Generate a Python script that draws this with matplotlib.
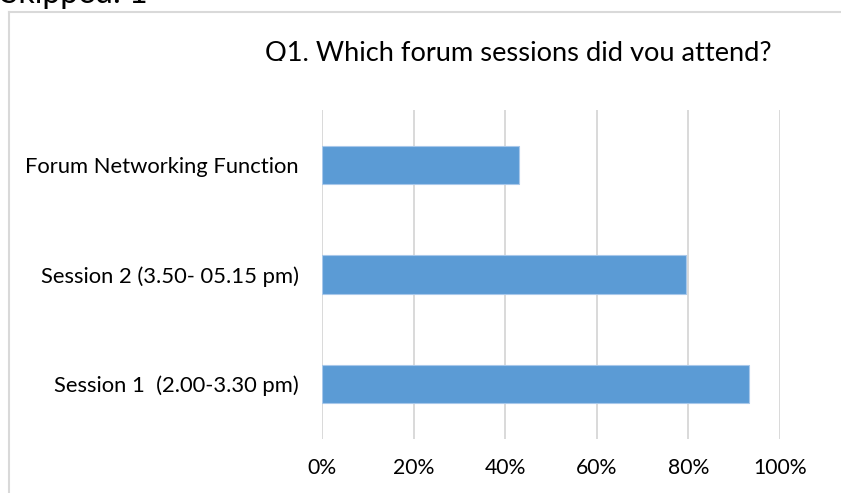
import matplotlib.pyplot as plt
from matplotlib.lines import Line2D
from matplotlib.patches import Rectangle
from matplotlib.ticker import PercentFormatter

# Datos del gráfico (de abajo hacia arriba)
categories = ["Session 1  (2.00-3.30 pm)", "Session 2 (3.50- 05.15 pm)", "Forum Networking Function"]
values = [0.932, 0.795, 0.431]
x_ticks = [0, 0.2, 0.4, 0.6, 0.8, 1.0]

W, H = 841, 493
plt.rcParams['font.family'] = ['Lato', 'DejaVu Sans']

fig = plt.figure(figsize=(W / 100, H / 100), dpi=100)
ax = fig.add_axes([322 / W, 1 - 439 / H, (780 - 322) / W, (439 - 110) / H])

bars = ax.barh(range(len(categories)), values, height=0.35, color='#5b9bd5',
               edgecolor='#a8c8ea', linewidth=0.8, zorder=3)

ax.set_xlim(0, 1)
ax.set_ylim(-0.5, len(categories) - 0.5)
ax.set_xticks(x_ticks)
ax.xaxis.set_major_formatter(PercentFormatter(1.0, decimals=0))
ax.set_yticks(range(len(categories)))
ax.set_yticklabels(categories)
ax.tick_params(axis='x', length=0, pad=14, labelsize=15.2, colors='black')
ax.tick_params(axis='y', length=0, pad=16.5, labelsize=15.8, colors='black')
ax.grid(axis='x', color='#d9d9d9', linewidth=1.4, zorder=0)
for s in ax.spines.values():
    s.set_visible(False)

# Marco del gráfico (se sale por la derecha y por abajo)
fig.add_artist(Line2D([9 / W, 9 / W], [0, 1 - 12 / H], transform=fig.transFigure,
                      color='#d9d9d9', linewidth=1.5))
fig.add_artist(Line2D([9 / W, 1], [1 - 12 / H, 1 - 12 / H], transform=fig.transFigure,
                      color='#d9d9d9', linewidth=1.5))

# Título recortado por abajo
clip = Rectangle((0, 1 - 61 / H), 1, 61 / H, transform=fig.transFigure)
title = fig.text(518 / W, 1 - 61 / H, "Q1. Which forum sessions did you attend?",
                 ha='center', va='baseline', fontsize=19.6)
title.set_clip_path(clip)

# Texto de arriba, cortado por el borde de la imagen
fig.text(1 / W, 1 - 3 / H, "Skipped: 1", ha='left', va='baseline', fontsize=23)

plt.savefig("out.png", dpi=100)
